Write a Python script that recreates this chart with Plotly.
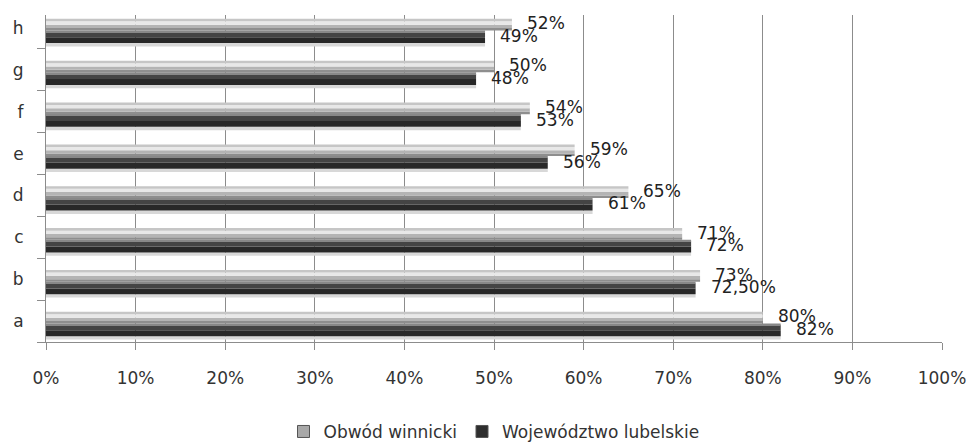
import plotly.graph_objects as go

# Category labels (bottom to top) and the two series, in percent
categories = ["a", "b", "c", "d", "e", "f", "g", "h"]
obwod_winnicki = [80, 73, 71, 65, 59, 54, 50, 52]
wojewodztwo_lubelskie = [82, 72.5, 72, 61, 56, 53, 48, 49]
x_ticks = [0, 10, 20, 30, 40, 50, 60, 70, 80, 90, 100]

FONT = "DejaVu Sans"
positions = list(range(len(categories)))


def fmt(v):
    if float(v).is_integer():
        return f"{int(v)}%"
    return f"{v:.2f}%".replace(".", ",")


# Horizontal stripes (offset, width, colour) that give each bar a shaded, tubular look
light_stripes = [
    (-0.06, 0.06, "#8e8e8e"),
    (0.00, 0.08, "#b4b4b4"),
    (0.08, 0.08, "#e8e8e8"),
    (0.16, 0.06, "#c6c6c6"),
]
dark_stripes = [
    (-0.44, 0.08, "#d8d8d8"),
    (-0.36, 0.14, "#282828"),
    (-0.22, 0.12, "#444444"),
    (-0.10, 0.04, "#888888"),
]

fig = go.Figure()


def add_series(values, name, legend_color, stripes):
    for off, w, col in stripes:
        fig.add_trace(go.Bar(
            x=values, y=positions, orientation="h",
            offset=off, width=w,
            marker=dict(color=col, line=dict(width=0)),
            name=name, legendgroup=name, showlegend=False,
            hoverinfo="skip",
        ))
    # legend-only entry
    fig.add_trace(go.Bar(
        x=[None], y=[None], orientation="h", name=name, legendgroup=name,
        marker=dict(color=legend_color, line=dict(color="#555555", width=1)),
        showlegend=True,
    ))


add_series(obwod_winnicki, "Obwód winnicki", "#a8a8a8", light_stripes)
add_series(wojewodztwo_lubelskie, "Województwo lubelskie", "#2e2e2e", dark_stripes)

# Value labels to the right of each bar end
annotations = []
for i, (vw, vl) in enumerate(zip(obwod_winnicki, wojewodztwo_lubelskie)):
    annotations.append(dict(x=vw, y=i + 0.11, text=fmt(vw), xanchor="left", yanchor="middle",
                            xshift=13, showarrow=False,
                            font=dict(family=FONT, size=17, color="#222222")))
    annotations.append(dict(x=vl, y=i - 0.19, text=fmt(vl), xanchor="left", yanchor="middle",
                            xshift=13, showarrow=False,
                            font=dict(family=FONT, size=17, color="#222222")))

fig.update_layout(
    width=971, height=443,
    margin=dict(l=46, r=29, t=15, b=101, autoexpand=False),
    paper_bgcolor="white", plot_bgcolor="white",
    barmode="overlay",
    annotations=annotations,
    font=dict(family=FONT, size=17, color="#333333"),
    showlegend=True,
    legend=dict(orientation="h", x=0.5, xanchor="center", y=-0.275, yanchor="middle",
                font=dict(family=FONT, size=17, color="#333333"),
                itemclick=False, itemdoubleclick=False),
    xaxis=dict(
        range=[0, 100], tickvals=x_ticks, ticktext=[f"{v}%" for v in x_ticks],
        showgrid=True, gridcolor="#8c8c8c", gridwidth=1,
        showline=True, linecolor="#8c8c8c", linewidth=1,
        ticks="outside", ticklen=7, tickcolor="#8c8c8c",
        ticklabelstandoff=14, automargin=False,
        zeroline=False, fixedrange=True,
        tickfont=dict(family=FONT, size=17, color="#333333"),
    ),
    yaxis=dict(
        range=[-0.5, 7.31], tickvals=positions, ticktext=categories,
        showgrid=False, zeroline=False,
        showline=True, linecolor="#8c8c8c", linewidth=1,
        ticks="", ticklabelstandoff=18, automargin=False,
        minor=dict(tickvals=[p - 0.5 for p in positions], ticks="outside",
                   ticklen=8, tickcolor="#8c8c8c", showgrid=False),
        fixedrange=True,
        tickfont=dict(family=FONT, size=17, color="#333333"),
    ),
)

fig.write_html("out.html")
